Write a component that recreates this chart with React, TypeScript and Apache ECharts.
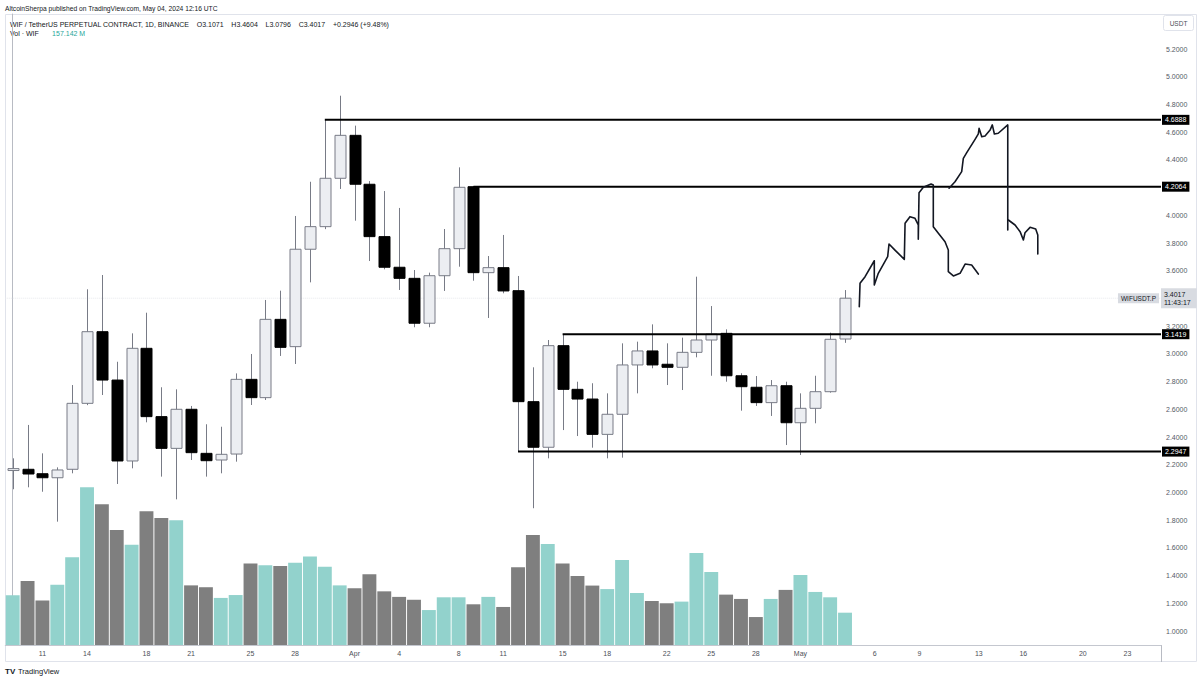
import React, { useEffect, useRef } from "react";
import * as echarts from "echarts";

// ---- Data ----
const opens = [2.158, 2.167, 2.135, 2.106, 2.167, 2.643, 3.16, 2.811, 2.227, 3.04, 2.547, 2.318, 2.6, 2.282, 2.234, 2.277, 2.816, 2.684, 3.249, 3.052, 3.755, 3.918, 4.267, 4.577, 4.224, 3.846, 3.625, 3.545, 3.221, 3.564, 3.759, 4.2064, 3.586, 3.622, 3.456, 2.655, 2.326, 3.059, 2.744, 2.674, 2.419, 2.564, 2.92, 3.021, 2.925, 2.903, 3.011, 3.1, 3.148, 2.842, 2.759, 2.648, 2.77, 2.503, 2.607, 2.727, 3.1071];
const highs = [2.246, 2.487, 2.282, 2.181, 2.775, 3.466, 3.569, 2.943, 3.148, 3.297, 2.759, 2.744, 2.624, 2.492, 2.474, 2.859, 2.999, 3.389, 3.456, 3.995, 4.242, 4.6888, 4.863, 4.647, 4.247, 4.175, 4.053, 3.605, 3.586, 3.901, 4.346, 4.211, 3.706, 3.858, 3.562, 2.903, 3.1, 3.1419, 2.799, 2.788, 2.715, 3.076, 3.088, 3.213, 3.076, 3.117, 3.557, 3.345, 3.177, 2.86, 2.84, 2.811, 2.799, 2.715, 2.842, 3.153, 3.4604];
const lows = [2.023, 2.037, 2.005, 1.789, 2.138, 2.63, 2.703, 2.061, 2.174, 2.506, 2.114, 1.95, 2.234, 2.114, 2.138, 2.222, 2.631, 2.667, 2.985, 2.927, 3.516, 3.9, 4.19, 3.961, 3.67, 3.61, 3.461, 3.192, 3.192, 3.454, 3.629, 3.528, 3.259, 3.437, 2.2947, 1.886, 2.246, 2.45, 2.407, 2.323, 2.246, 2.251, 2.715, 2.896, 2.775, 2.739, 2.975, 2.842, 2.799, 2.59, 2.624, 2.552, 2.342, 2.27, 2.499, 2.72, 3.0796];
const closes = [2.172, 2.133, 2.106, 2.162, 2.643, 3.16, 2.811, 2.227, 3.04, 2.547, 2.318, 2.6, 2.287, 2.229, 2.275, 2.816, 2.684, 3.249, 3.047, 3.755, 3.918, 4.267, 4.577, 4.224, 3.846, 3.625, 3.545, 3.221, 3.564, 3.759, 4.202, 3.586, 3.622, 3.454, 2.655, 2.326, 3.059, 2.744, 2.674, 2.419, 2.564, 2.92, 3.021, 2.92, 2.903, 3.011, 3.1, 3.143, 2.842, 2.763, 2.648, 2.77, 2.503, 2.607, 2.727, 3.105, 3.4017];
const volumes = [242, 311, 217, 293, 427, 767, 685, 559, 488, 650, 618, 607, 290, 281, 229, 243, 396, 388, 384, 400, 431, 381, 290, 276, 344, 261, 234, 220, 170, 232, 232, 198, 234, 185, 378, 535, 491, 396, 336, 289, 272, 414, 253, 214, 203, 211, 448, 355, 245, 224, 136, 224, 268, 341, 258, 232, 157.142];

// date tick labels (index of day counted from Mar 9, 2024)
const dateTickIdx = [2, 5, 9, 12, 16, 19, 23, 26, 30, 33, 37, 40, 44, 47, 50, 53, 58, 61, 65, 68, 72, 75];
const dateTickLabels = ["11", "14", "18", "21", "25", "28", "Apr", "4", "8", "11", "15", "18", "22", "25", "28", "May", "6", "9", "13", "16", "20", "23"];
const priceTicks = [1.0, 1.2, 1.4, 1.6, 1.8, 2.0, 2.2, 2.4, 2.6, 2.8, 3.0, 3.2, 3.6, 3.8, 4.0, 4.4, 4.6, 4.8, 5.0, 5.2];

// horizontal levels: [start day index, price]
const levelStarts = [21, 31, 37, 34];
const levelPrices = [4.6888, 4.2064, 3.1419, 2.2947];
const lastPrice = 3.4017;

// hand-drawn annotation strokes, in [day index, price]
const drawing1 = [[56.96, 3.34], [57.01, 3.509], [57.35, 3.557], [57.97, 3.672], [57.97, 3.497], [58.24, 3.581], [58.87, 3.701], [58.96, 3.793], [59.36, 3.749], [59.99, 3.682], [60.04, 3.942], [60.37, 3.99], [60.71, 3.978], [60.93, 3.93], [60.93, 3.827], [60.98, 4.163], [61.27, 4.202], [61.79, 4.226], [61.94, 4.219], [61.94, 3.918], [62.28, 3.87], [62.73, 3.809], [62.95, 3.749], [62.95, 3.593], [63.29, 3.562], [63.74, 3.581], [64.08, 3.648], [64.52, 3.641], [64.97, 3.576]];
const drawing2 = [[63.0, 4.195], [63.4, 4.242], [63.85, 4.315], [63.96, 4.411], [64.19, 4.452], [64.75, 4.548], [64.97, 4.587], [65.02, 4.628], [65.2, 4.567], [65.42, 4.572], [65.76, 4.615], [65.91, 4.652], [66.05, 4.587], [66.31, 4.592], [66.95, 4.652], [66.95, 3.894]];
const drawing3 = [[66.99, 3.966], [67.44, 3.93], [67.78, 3.882], [68.0, 3.822], [68.11, 3.874], [68.45, 3.913], [68.83, 3.901], [68.97, 3.858], [68.97, 3.721]];

const X_MAX = 77.26;
const FONT = "'Liberation Sans', Arial, sans-serif";

export default function App() {
  const ref = useRef<HTMLDivElement>(null);
  useEffect(() => {
    if (!ref.current) return;
    const chart = echarts.init(ref.current, null, { renderer: "svg" });
    const candleData = opens.map((o, i) => [i, o, closes[i], lows[i], highs[i]]);
    const volData = volumes.map((v, i) => ({
      value: [i, v],
      itemStyle: { color: closes[i] >= opens[i] ? "#92d2cc" : "#7f7f7f" },
    }));

    const levelSeries = levelPrices.map((p, k) => ({
      type: "line",
      xAxisIndex: 0,
      yAxisIndex: 0,
      symbol: "none",
      silent: true,
      z: 5,
      data: [[levelStarts[k], p], [X_MAX, p]],
      lineStyle: { color: "#000", width: 2 },
      endLabel: {
        show: true,
        formatter: p.toFixed(4),
        color: "#fff",
        backgroundColor: "#000",
        fontSize: 7,
        fontFamily: FONT,
        padding: [2, 3, 1, 3],
        distance: 1,
      },
    }));

    const drawSeries = [drawing1, drawing2, drawing3].map((d) => ({
      type: "line",
      xAxisIndex: 0,
      yAxisIndex: 0,
      symbol: "none",
      silent: true,
      z: 6,
      data: d,
      lineStyle: { color: "#131722", width: 1.6, cap: "round", join: "round" },
    }));

    chart.setOption({
      animation: false,
      textStyle: { fontFamily: FONT },
      grid: { left: 5.27, right: 39, top: 14, bottom: 36 },
      xAxis: [
        {
          type: "value",
          min: -0.5,
          max: X_MAX,
          axisLine: { show: true, onZero: false, lineStyle: { color: "#c4c7cf", width: 1 } },
          axisTick: { show: false },
          splitLine: { show: false },
          axisLabel: {
            customValues: dateTickIdx,
            formatter: (v: number) => {
              const k = dateTickIdx.indexOf(Math.round(v));
              return k >= 0 ? dateTickLabels[k] : "";
            },
            fontSize: 7,
            color: "#4c4f58",
            margin: 5,
            hideOverlap: false,
          },
        },
      ],
      yAxis: [
        {
          type: "value",
          position: "right",
          min: 1 - 14 / 138.57,
          max: 1 + 617 / 138.57,
          axisLine: { show: true, lineStyle: { color: "#b8bbc3", width: 1 } },
          axisTick: { show: false },
          splitLine: { show: false },
          axisLabel: {
            customValues: priceTicks,
            formatter: (v: number) => v.toFixed(4),
            fontSize: 7,
            color: "#555a66",
            margin: 5,
            hideOverlap: false,
          },
        },
        { type: "value", min: 0, max: 3069, show: false },
      ],
      series: [
        {
          type: "bar",
          xAxisIndex: 0,
          yAxisIndex: 1,
          data: volData,
          barWidth: 13.9,
          silent: true,
          z: 1,
        },
        {
          type: "line",
          xAxisIndex: 0,
          yAxisIndex: 0,
          symbol: "none",
          silent: true,
          z: 2,
          data: [[-0.5, lastPrice], [X_MAX, lastPrice]],
          lineStyle: { color: "#e6e8ec", width: 1, type: "dotted" },
          endLabel: {
            show: true,
            formatter: lastPrice.toFixed(4) + "\n11:43:17",
            color: "#131722",
            backgroundColor: "#d8dbe1",
            fontSize: 7,
            lineHeight: 8,
            fontFamily: FONT,
            padding: [2, 6, 2, 3],
            distance: 0,
          },
        },
        {
          type: "custom",
          xAxisIndex: 0,
          yAxisIndex: 0,
          z: 3,
          silent: true,
          data: candleData,
          encode: { x: 0, y: [1, 2, 3, 4] },
          renderItem: (params: any, api: any) => {
            const x = api.value(0);
            const o = api.value(1);
            const c = api.value(2);
            const l = api.value(3);
            const h = api.value(4);
            const pO = api.coord([x, o]);
            const pC = api.coord([x, c]);
            const pL = api.coord([x, l]);
            const pH = api.coord([x, h]);
            const cx = Math.round(pO[0]) + 0.5;
            const up = c >= o;
            const top = Math.min(pO[1], pC[1]);
            const bot = Math.max(pO[1], pC[1]);
            const bh = Math.max(bot - top, 1.5);
            return {
              type: "group",
              children: [
                { type: "line", shape: { x1: cx, y1: pH[1], x2: cx, y2: pL[1] }, style: { stroke: "#787b86", lineWidth: 1 } },
                {
                  type: "rect",
                  shape: { x: cx - 5.5, y: top, width: 11, height: bh },
                  style: { fill: up ? "#eceef2" : "#000", stroke: up ? "#787b86" : "#000", lineWidth: 1 },
                },
              ],
            };
          },
        },
        ...levelSeries,
        ...drawSeries,
      ],
      graphic: [
        { type: "rect", shape: { x: 5.5, y: 14.5, width: 1191, height: 647 }, style: { fill: "none", stroke: "#e0e3eb", lineWidth: 1 }, silent: true, z: 0 },
        { type: "line", shape: { x1: 1161.5, y1: 645, x2: 1161.5, y2: 662 }, style: { stroke: "#b8bbc3", lineWidth: 1 }, silent: true },
        { type: "rect", shape: { x: 1163.5, y: 15.5, width: 30, height: 15, r: 2 }, style: { fill: "#fff", stroke: "#e0e3eb", lineWidth: 1 }, silent: true },
        { type: "text", x: 1178.5, y: 23, style: { text: "USDT", fontSize: 6.5, fill: "#4c4f58", align: "center", verticalAlign: "middle", fontFamily: FONT }, silent: true },
        { type: "text", x: 5, y: 8, style: { text: "AltcoinSherpa published on TradingView.com, May 04, 2024 12:16 UTC", fontSize: 6.7, fill: "#131722", verticalAlign: "middle", fontFamily: FONT }, silent: true },
        {
          type: "text",
          x: 10,
          y: 24,
          style: {
            text: "WIF / TetherUS PERPETUAL CONTRACT, 1D, BINANCE    O3.1071    H3.4604    L3.0796    C3.4017    +0.2946 (+9.48%)",
            fontSize: 7,
            fill: "#131722",
            verticalAlign: "middle",
            fontFamily: FONT,
          },
          silent: true,
        },
        {
          type: "text",
          x: 10,
          y: 33,
          style: {
            text: "{a|Vol · WIF}    {b|157.142 M}",
            verticalAlign: "middle",
            rich: {
              a: { fontSize: 7, fill: "#131722", fontFamily: FONT },
              b: { fontSize: 7, fill: "#26a69a", fontFamily: FONT },
            },
          },
          silent: true,
        },
        { type: "text", x: 5, y: 671, style: { text: "TV", fontSize: 8, fontWeight: "bold", fill: "#131722", verticalAlign: "middle", fontFamily: FONT }, silent: true },
        { type: "text", x: 18, y: 671, style: { text: "TradingView", fontSize: 7.5, fill: "#131722", verticalAlign: "middle", fontFamily: FONT }, silent: true },
      ],
    });

    const yLast = chart.convertToPixel({ yAxisIndex: 0 }, lastPrice) as number;
    chart.setOption({
      graphic: [
        {
          id: "symLabel",
          type: "text",
          x: 1159,
          y: yLast,
          style: {
            text: "WIFUSDT.P",
            fontSize: 6.5,
            fill: "#131722",
            backgroundColor: "#d8dbe1",
            padding: [2, 3, 1, 3],
            align: "right",
            verticalAlign: "middle",
            fontFamily: FONT,
          },
          silent: true,
          z: 10,
        },
      ],
    });

    return () => chart.dispose();
  }, []);
  return <div ref={ref} style={{ position: "fixed", left: 0, top: 0, width: 1200, height: 681, background: "#fff" }} />;
}
